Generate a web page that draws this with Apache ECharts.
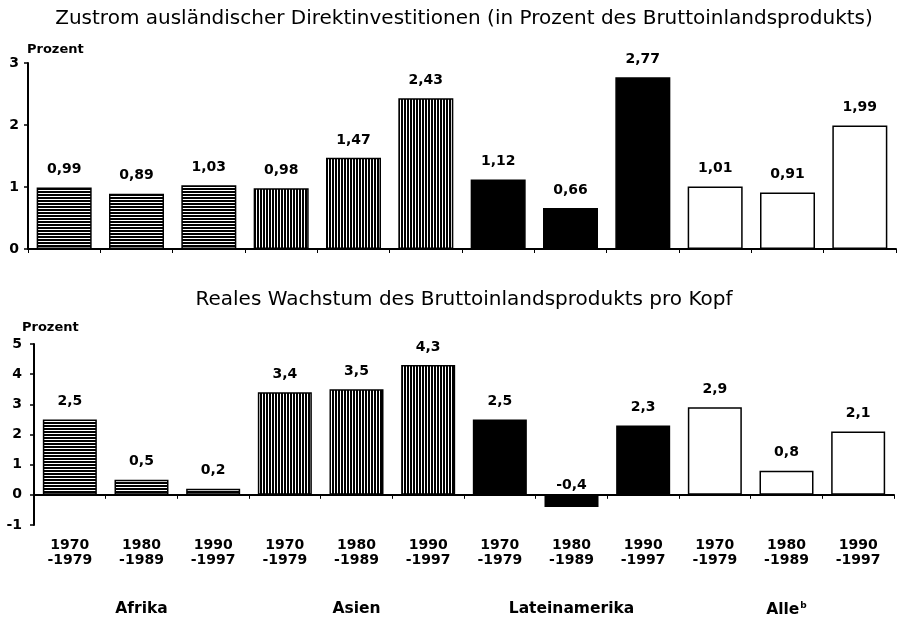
<!DOCTYPE html>
<html>
<head>
<meta charset="utf-8">
<script src="https://cdn.jsdelivr.net/npm/echarts@6/dist/echarts.min.js"></script>
<style>html,body{margin:0;padding:0;background:#fff}#c{width:899px;height:618px}</style>
</head>
<body>
<div id="c"></div>
<script>
const groups = ['Afrika', 'Asien', 'Lateinamerika', 'Alle'];
const periods = ['1970\n-1979', '1980\n-1989', '1990\n-1997'];
const fdiValues = [0.99, 0.89, 1.03, 0.98, 1.47, 2.43, 1.12, 0.66, 2.77, 1.01, 0.91, 1.99];
const growthValues = [2.5, 0.5, 0.2, 3.4, 3.5, 4.3, 2.5, -0.4, 2.3, 2.9, 0.8, 2.1];
const fdiTicks = [0, 1, 2, 3];
const growthTicks = [-1, 0, 1, 2, 3, 4, 5];

const titleTop = 'Zustrom ausländischer Direktinvestitionen (in Prozent des Bruttoinlandsprodukts)';
const titleBottom = 'Reales Wachstum des Bruttoinlandsprodukts pro Kopf';
const yName = 'Prozent';

const categories = [];
const groupLabels = [];
groups.forEach(g => periods.forEach((p, i) => {
  categories.push(p);
  groupLabels.push(i === 1 ? (g === 'Alle' ? '{n|Alle}{s|b}' : '{n|' + g + '}') : '');
}));

function pattern(horizontal) {
  const c = document.createElement('canvas');
  c.width = 3; c.height = 3;
  const g = c.getContext('2d');
  g.fillStyle = '#000'; g.fillRect(0, 0, 3, 3);
  g.fillStyle = '#fff';
  if (horizontal) g.fillRect(0, 1, 3, 1); else g.fillRect(1, 0, 1, 3);
  return c;
}
const fills = [
  { image: pattern(true), repeat: 'repeat' },
  { image: pattern(false), repeat: 'repeat' },
  '#000',
  '#fff'
];
const FONT = '"DejaVu Sans", Verdana, sans-serif';

function fmt(v) { return String(v).replace('.', ','); }
function barData(vals) {
  return vals.map((v, i) => ({
    value: v,
    itemStyle: { color: fills[Math.floor(i / 3)], borderColor: '#000', borderWidth: 1.5 },
    label: { distance: v < 0 ? 2 : 11 }
  }));
}

const chart = echarts.init(document.getElementById('c'), null, { renderer: 'canvas' });
const axisLabelStyle = { color: '#000', fontFamily: FONT, fontWeight: 'bold', fontSize: 14 };

chart.setOption({
  animation: false,
  backgroundColor: '#fff',
  title: [
    { text: titleTop, left: 459, textAlign: 'center', top: 4, textStyle: { fontFamily: FONT, fontSize: 20, fontWeight: 'normal', color: '#000' } },
    { text: yName, left: 22, top: 38, textStyle: { fontFamily: FONT, fontSize: 13, fontWeight: 'bold', color: '#000' } },
    { text: titleBottom, left: 459, textAlign: 'center', top: 285, textStyle: { fontFamily: FONT, fontSize: 20, fontWeight: 'normal', color: '#000' } },
    { text: yName, left: 17, top: 316, textStyle: { fontFamily: FONT, fontSize: 13, fontWeight: 'bold', color: '#000' } }
  ],
  grid: [
    { left: 28, width: 868, top: 63, height: 186 },
    { left: 34, width: 860, top: 344, height: 181 }
  ],
  xAxis: [
    { gridIndex: 0, type: 'category', data: categories,
      axisLine: { onZero: true, lineStyle: { color: '#000', width: 2 } },
      axisTick: { show: true, length: 4, lineStyle: { color: '#000' } },
      axisLabel: { show: false } },
    { gridIndex: 1, type: 'category', data: categories,
      axisLine: { onZero: true, lineStyle: { color: '#000', width: 2 } },
      axisTick: { show: true, length: 4, lineStyle: { color: '#000' } },
      axisLabel: { show: false } },
    { gridIndex: 1, type: 'category', data: categories, position: 'bottom',
      axisLine: { show: false, onZero: false }, axisTick: { show: false },
      axisLabel: { interval: 0, margin: 13, lineHeight: 15, fontSize: 14, fontWeight: 'bold', color: '#000', fontFamily: FONT } },
    { gridIndex: 1, type: 'category', data: groupLabels, position: 'bottom',
      axisLine: { show: false, onZero: false }, axisTick: { show: false },
      axisLabel: { interval: 0, margin: 76,
        rich: {
          n: { fontSize: 15.5, fontWeight: 'bold', color: '#000', fontFamily: FONT },
          s: { fontSize: 9, fontWeight: 'bold', color: '#000', fontFamily: FONT, verticalAlign: 'top', padding: [0, 0, 8, 1] }
        } } }
  ],
  yAxis: [
    { gridIndex: 0, type: 'value', min: fdiTicks[0], max: fdiTicks[fdiTicks.length - 1], interval: 1,
      splitLine: { show: false },
      axisLine: { show: true, lineStyle: { color: '#000', width: 2 } },
      axisTick: { show: true, length: 4, lineStyle: { color: '#000', width: 1.5 } },
      axisLabel: Object.assign({ margin: 9, formatter: v => fmt(v) }, axisLabelStyle) },
    { gridIndex: 1, type: 'value', min: growthTicks[0], max: growthTicks[growthTicks.length - 1], interval: 1,
      splitLine: { show: false },
      axisLine: { show: true, lineStyle: { color: '#000', width: 2 } },
      axisTick: { show: true, length: 4, lineStyle: { color: '#000', width: 1.5 } },
      axisLabel: Object.assign({ margin: 12, formatter: v => fmt(v) }, axisLabelStyle) }
  ],
  series: [
    { type: 'bar', xAxisIndex: 0, yAxisIndex: 0, data: barData(fdiValues), barWidth: 55,
      label: { show: true, position: 'top', formatter: p => fmt(p.value), color: '#000', fontFamily: FONT, fontWeight: 'bold', fontSize: 14 } },
    { type: 'bar', xAxisIndex: 1, yAxisIndex: 1, data: barData(growthValues), barWidth: 54,
      label: { show: true, position: 'top', formatter: p => fmt(p.value), color: '#000', fontFamily: FONT, fontWeight: 'bold', fontSize: 14 } }
  ]
});
</script>
</body>
</html>
